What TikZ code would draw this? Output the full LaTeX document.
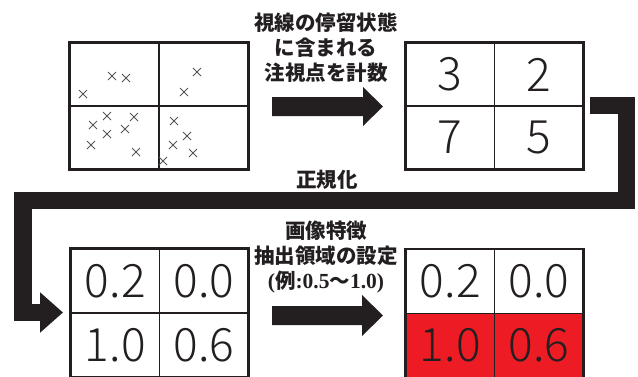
\documentclass[tikz,border=0pt]{standalone}
\usepackage{fontspec}
\newfontfamily\cjk{Noto Sans CJK JP}
\newfontfamily\numf{Noto Sans CJK JP Light}
\newfontfamily\serf{Liberation Serif}
\usetikzlibrary{arrows.meta}
\definecolor{ink}{HTML}{231F20}
\definecolor{redcell}{HTML}{ED1C24}
\definecolor{xgray}{HTML}{555555}
\tikzset{
  cell/.style={draw=ink, line width=1.3pt, minimum width=88.5pt, minimum height=63pt, inner sep=0pt, font=\numf\fontsize{46}{46}\selectfont, text=ink},
  frame/.style={draw=ink, line width=2.6pt},
  xmk/.style={draw=xgray, line width=0.9pt},
  bigarrow/.style={fill=ink},
  bentline/.style={draw=ink, line width=17.5pt, miter limit=10, -{Triangle[length=23pt, width=39pt]}},
  lab/.style={align=center, text=ink, font=\cjk\bfseries\fontsize{20.5}{24.8}\selectfont, inner sep=0pt}
}
\begin{document}
\begin{tikzpicture}[x=1pt, y=-1pt]
\useasboundingbox (0,0) rectangle (638,376);
% grid 1 (gaze points)
\node[cell, minimum width=89pt, font=\normalsize] (g1a) at (114.5,74.5) {};
\node[cell, minimum width=89pt, font=\normalsize] (g1b) at (203.5,74.5) {};
\node[cell, minimum width=89pt, font=\normalsize] (g1c) at (114.5,137.5) {};
\node[cell, minimum width=89pt, font=\normalsize] (g1d) at (203.5,137.5) {};
\draw[frame] (g1a.north west) rectangle (g1d.south east);
\foreach \p in {(112,76),(126,78),(83,94),(197,72),(184,92),
  (93,125),(107,116),(134,117),(107,134),(125,129),(91,145),(136,152),
  (174,121),(187,136),(173,145),(193,153),(163,161)}
  \draw[xmk] \p +(-4,-4) -- +(4,4) +(-4,4) -- +(4,-4);
% grid 2 (counts)
\node[cell] (g2a) at (450.25,74.5) {3};
\node[cell] (g2b) at (538.75,74.5) {2};
\node[cell] (g2c) at (450.25,137.5) {7};
\node[cell] (g2d) at (538.75,137.5) {5};
\draw[frame] (g2a.north west) rectangle (g2d.south east);
% grid 3 (normalised)
\node[cell, minimum height=64pt] (g3a) at (115.25,281) {0.2};
\node[cell, minimum height=64pt] (g3b) at (203.75,281) {0.0};
\node[cell, minimum height=64pt] (g3c) at (115.25,345) {1.0};
\node[cell, minimum height=64pt] (g3d) at (203.75,345) {0.6};
\draw[frame] (g3a.north west) rectangle (g3d.south east);
% grid 4 (region)
\node[cell, minimum height=64pt] (g4a) at (450.25,281.5) {0.2};
\node[cell, minimum height=64pt] (g4b) at (538.75,281.5) {0.0};
\node[cell, minimum height=64pt, fill=redcell] (g4c) at (450.25,345.5) {1.0};
\node[cell, minimum height=64pt, fill=redcell] (g4d) at (538.75,345.5) {0.6};
\draw[frame] (g4a.north west) rectangle (g4d.south east);
% straight arrows
\fill[bigarrow] (272,97) -- (363,97) -- (363,87) -- (383,106.5) -- (363,126) -- (363,116) -- (272,116) -- cycle;
\fill[bigarrow] (272,306) -- (362,306) -- (362,295) -- (383,315.5) -- (362,336) -- (362,325) -- (272,325) -- cycle;
% bent connector
\coordinate (bs) at (590,105.5);
\coordinate (be) at (63,312.5);
\draw[bentline] (bs) -- (626.5,105.5) -- (626.5,200.5) -- (23,200.5) -- (23,312.5) -- (be);
% labels
\node[lab] (t1) at (326,47.5) {視線の停留状態\\に含まれる\\注視点を計数};
\node[lab] (t2) at (327,180) {正規化};
\node[lab] (t3) at (326,257) {画像特徴\\抽出領域の設定\\{\serf\bfseries\fontsize{21.5}{24.8}\selectfont(}例{\serf\bfseries\fontsize{21.5}{24.8}\selectfont:0.5}～{\serf\bfseries\fontsize{21.5}{24.8}\selectfont 1.0)}};
\end{tikzpicture}
\end{document}
